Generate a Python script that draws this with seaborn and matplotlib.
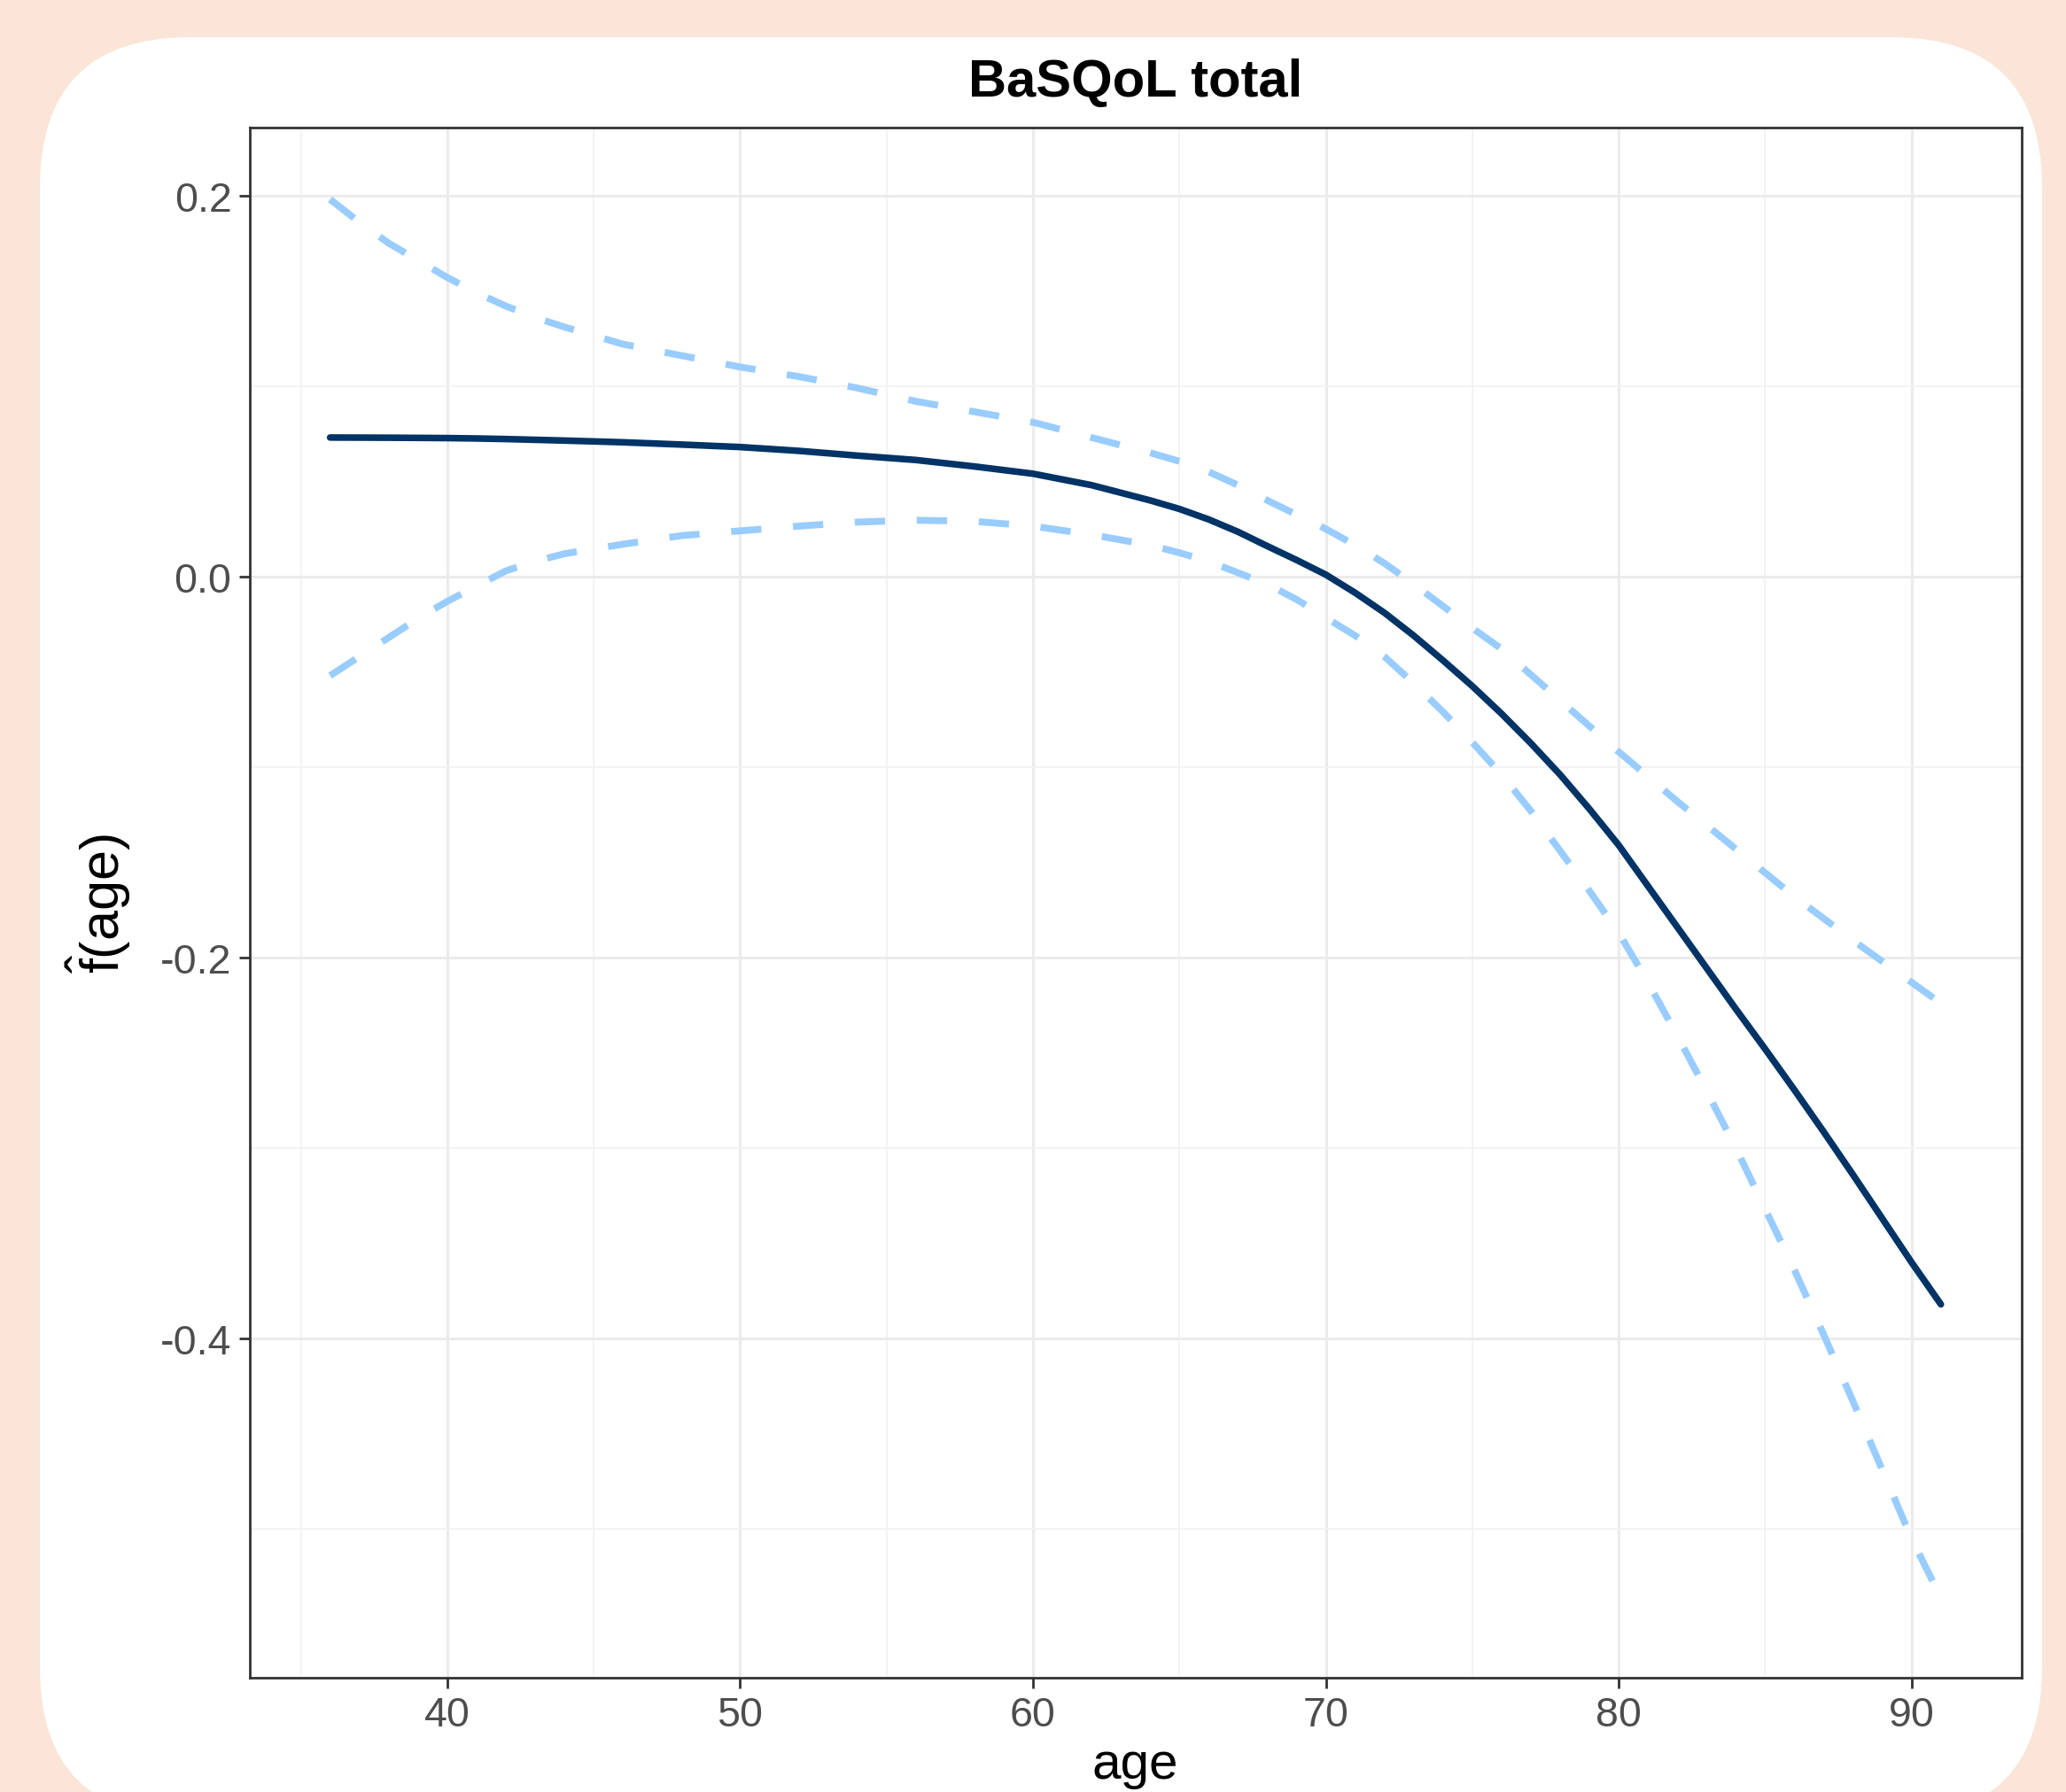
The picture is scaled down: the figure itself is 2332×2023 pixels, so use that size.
import matplotlib
matplotlib.use("Agg")
import matplotlib.pyplot as plt
from matplotlib.patches import FancyBboxPatch
import seaborn as sns
import pandas as pd

# ---------------- data ----------------
age = [36, 37, 38, 39, 40, 41, 42, 43, 44, 46, 48, 50, 52, 54, 56, 58, 60, 62,
       64, 65, 66, 67, 68, 69, 70, 71, 72, 73, 74, 75, 76, 77, 78, 79, 80, 81,
       82, 83, 84, 85, 86, 87, 88, 89, 90, 91]
fit = [0.0730, 0.07295, 0.0729, 0.0728, 0.0727, 0.0725, 0.0722, 0.0718, 0.0714,
       0.0705, 0.0693, 0.0680, 0.0660, 0.0635, 0.0612, 0.0578, 0.0540, 0.0480,
       0.0400, 0.0355, 0.0300, 0.0235, 0.0160, 0.0087, 0.0010, -0.0085, -0.0190,
       -0.0310, -0.0440, -0.0575, -0.0720, -0.0875, -0.1040, -0.1220, -0.1410,
       -0.1625, -0.1840, -0.2055, -0.2270, -0.2480, -0.2695, -0.2915, -0.3140,
       -0.3370, -0.3600, -0.3820]
upper = [0.198, 0.186, 0.175, 0.166, 0.157, 0.149, 0.142, 0.136, 0.131, 0.122,
         0.116, 0.110, 0.105, 0.099, 0.092, 0.0865, 0.081, 0.073,
         0.065, 0.0605, 0.055, 0.048, 0.040, 0.0325, 0.025, 0.0165, 0.007,
         -0.004, -0.0155, -0.027, -0.038, -0.0515, -0.065, -0.0785, -0.092,
         -0.105, -0.118, -0.1305, -0.143, -0.1555, -0.168, -0.1795, -0.191,
         -0.202, -0.213, -0.224]
lower = [-0.052, -0.042, -0.032, -0.022, -0.013, -0.005, 0.003, 0.008, 0.012,
         0.017, 0.0215, 0.024, 0.0265, 0.0286, 0.0296, 0.029, 0.0265, 0.022,
         0.0165, 0.0125, 0.008, 0.002, -0.004, -0.012, -0.0216, -0.031, -0.042,
         -0.056, -0.071, -0.087, -0.104, -0.123, -0.144, -0.165, -0.187, -0.213,
         -0.241, -0.270, -0.300, -0.332, -0.364, -0.398, -0.433, -0.469, -0.505,
         -0.536]

x_ticks = [40, 50, 60, 70, 80, 90]
x_tick_labels = ["40", "50", "60", "70", "80", "90"]
x_minor = [35, 45, 55, 65, 75, 85]
y_ticks = [-0.4, -0.2, 0.0, 0.2]
y_tick_labels = ["-0.4", "-0.2", "0.0", "0.2"]
y_minor = [-0.5, -0.3, -0.1, 0.1]
title = "BaSQoL total"
x_label = "age"
y_label = r"$\hat{\mathrm{f}}(\mathrm{age})$"

# ---------------- style ----------------
sns.set_style("white")
plt.rcParams["font.family"] = ["Liberation Sans", "DejaVu Sans"]
plt.rcParams["axes.unicode_minus"] = False
plt.rcParams["mathtext.fontset"] = "custom"
plt.rcParams["mathtext.rm"] = "Liberation Sans"
plt.rcParams["mathtext.it"] = "Liberation Sans:italic"
plt.rcParams["mathtext.bf"] = "Liberation Sans:bold"

PEACH = "#FAE5D8"
W, H = 2332, 2024
fig = plt.figure(figsize=(W / 100, H / 100), dpi=100, facecolor=PEACH)

# rounded white card
bg = fig.add_axes([0, 0, 1, 1])
bg.set_xlim(0, W)
bg.set_ylim(H, 0)
bg.axis("off")
bg.add_patch(FancyBboxPatch((45, 43), 2260, 2010,
                            boxstyle="round,pad=0,rounding_size=170",
                            fc="white", ec="none"))

# main panel
ax = fig.add_axes([281.7 / W, (H - 1895) / H, 2000 / W, 1750 / H])
ax.set_zorder(1)
ax.set_facecolor("white")

df = pd.DataFrame({"age": age, "fit": fit, "upper": upper, "lower": lower})
dash = (0, (4.4, 4.6))
sns.lineplot(data=df, x="age", y="upper", ax=ax, color="#99CCFF", lw=5.6,
             linestyle=dash)
sns.lineplot(data=df, x="age", y="lower", ax=ax, color="#99CCFF", lw=5.6,
             linestyle=dash)
sns.lineplot(data=df, x="age", y="fit", ax=ax, color="#003366", lw=5.4)

ax.set_xlim(33.25, 93.75)
ax.set_ylim(-0.578, 0.2357)

ax.set_xticks(x_ticks)
ax.set_xticklabels(x_tick_labels)
ax.set_xticks(x_minor, minor=True)
ax.set_yticks(y_ticks)
ax.set_yticklabels(y_tick_labels)
ax.set_yticks(y_minor, minor=True)

ax.set_axisbelow(True)
ax.grid(which="major", color="#EBEBEB", lw=2.2)
ax.grid(which="minor", color="#F2F2F2", lw=1.3)

for s in ax.spines.values():
    s.set_visible(True)
    s.set_color("#333333")
    s.set_linewidth(2.0)

ax.tick_params(which="major", direction="out", length=8.6, width=2.0,
               color="#333333", labelcolor="#4D4D4D", labelsize=33.5,
               left=True, bottom=True)
ax.tick_params(axis="x", which="major", pad=6)
ax.tick_params(axis="y", which="major", pad=6)
ax.tick_params(which="minor", length=0)

ax.set_title(title, fontsize=43, fontweight="bold", color="black", pad=26)

ax.set_xlabel(x_label, fontsize=42, color="black")
ax.xaxis.set_label_coords(0.5, -0.0646)
ax.xaxis.label.set_va("baseline")

ax.set_ylabel(y_label, fontsize=44, color="black")
ax.yaxis.set_label_coords(-0.0659, 0.5)

fig.savefig("out.png", dpi=100, facecolor=fig.get_facecolor())
